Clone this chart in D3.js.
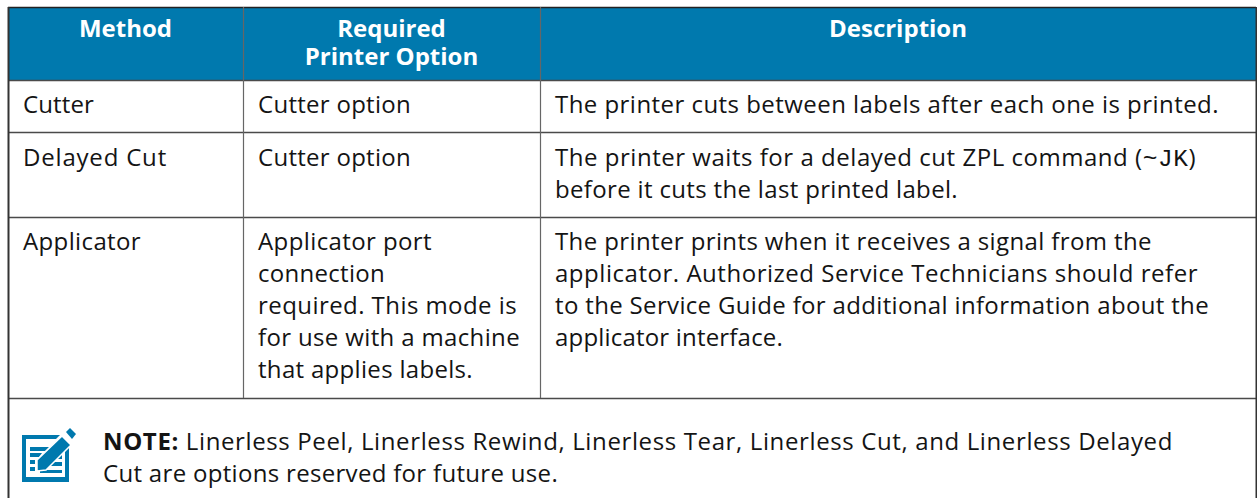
<!DOCTYPE html>
<html>
<head>
<meta charset="utf-8">
<script src="https://cdn.jsdelivr.net/npm/d3@7"></script>
<style>
html, body { margin: 0; padding: 0; background: #fff; }
svg { display: block; }
text { font-family: "Open Sans", Lato, sans-serif; font-variant-ligatures: none; }
</style>
</head>
<body>
<svg width="1257" height="498"></svg>
<script>
// table content
var headers = [["Method"], ["Required", "Printer Option"], ["Description"]];
var methods = [["Cutter"], ["Delayed Cut"], ["Applicator"]];
var options = [
    ["Cutter option"],
    ["Cutter option"],
    ["Applicator port", "connection", "required. This mode is", "for use with a machine", "that applies labels."]
];
var descriptions = [
    ["The printer cuts between labels after each one is printed."],
    ["The printer waits for a delayed cut ZPL command (~JK)", "before it cuts the last printed label."],
    ["The printer prints when it receives a signal from the", "applicator. Authorized Service Technicians should refer", "to the Service Guide for additional information about the", "applicator interface."]
];
var noteLabel = "NOTE:";
var noteLines = [" Linerless Peel, Linerless Rewind, Linerless Tear, Linerless Cut, and Linerless Delayed", "Cut are options reserved for future use."];

// layout
var colEdges = [8, 243, 540, 1256];
var rowEdges = [7, 80, 132, 217, 398];
var rowBase = [113, 166, 250];
var blue = "#0079ae";
var ink = "#141414";
var lineH = 32;
var bodySize = 24;

// right edge of each column's lines, the original face runs wider than Open Sans
var methodEnds = [[94], [167], [141]];
var optionEnds = [[411], [411], [432, 385, 517, 520, 473]];
var descriptionEnds = [[1219], [1196, 958], [1152, 1198, 1209, 783]];
var noteEnds = [1173, 558];

var svg = d3.select("svg");

// stretch a line out to its right edge with letter spacing
function fitTo(sel, x, end) {
    var n = sel.text().length;
    var w = sel.node().getComputedTextLength();
    sel.style("letter-spacing", ((end - x - w) / n) + "px");
}

// header band
svg.append("rect")
    .attr("x", colEdges[0])
    .attr("y", rowEdges[0])
    .attr("width", colEdges[3] - colEdges[0])
    .attr("height", rowEdges[1] - rowEdges[0])
    .attr("fill", blue);

// rules
rowEdges.forEach(function (y, i) {
    svg.append("line")
        .attr("x1", colEdges[0]).attr("x2", colEdges[3])
        .attr("y1", y + 0.5).attr("y2", y + 0.5)
        .attr("stroke", i == 0 ? "#222" : "#4a4a4a")
        .attr("stroke-width", 1.5);
});
colEdges.forEach(function (x, i) {
    var outer = i == 0 || i == 3;
    svg.append("line")
        .attr("x1", x + 0.5).attr("x2", x + 0.5)
        .attr("y1", rowEdges[0])
        .attr("y2", outer ? 498 : rowEdges[4])
        .attr("stroke", outer ? "#333" : "#666")
        .attr("stroke-width", outer ? 2 : 1.2);
});

// header text
headers.forEach(function (lines, c) {
    var cx = (colEdges[c] + colEdges[c + 1]) / 2;
    svg.append("g").selectAll("text")
        .data(lines)
        .enter()
        .append("text")
        .attr("x", cx)
        .attr("y", function (d, i) { return 37 + i * 28; })
        .attr("text-anchor", "middle")
        .attr("fill", "#fff")
        .style("font-size", "24px")
        .style("font-weight", 700)
        .text(function (d) { return d; });
});

// body cells
function drawCells(columns, ends, x) {
    columns.forEach(function (lines, r) {
        svg.append("g").selectAll("text")
            .data(lines)
            .enter()
            .append("text")
            .attr("x", x)
            .attr("y", function (d, i) { return rowBase[r] + i * lineH; })
            .attr("fill", ink)
            .style("font-size", bodySize + "px")
            .each(function (d, i) {
                var t = d3.select(this);
                var m = d.indexOf("~JK");
                if (m < 0) {
                    t.text(d);
                    fitTo(t, x, ends[r][i]);
                    return;
                }
                // the command is set in a typewriter face
                t.append("tspan").text(d.slice(0, m));
                t.append("tspan").style("font-family", "'Liberation Mono', monospace").style("font-size", "24.5px").text("~JK");
                t.append("tspan").text(d.slice(m + 3));
                fitTo(t, x, ends[r][i]);
            });
    });
}
drawCells(methods, methodEnds, colEdges[0] + 15);
drawCells(options, optionEnds, colEdges[1] + 15);
drawCells(descriptions, descriptionEnds, colEdges[2] + 15);

// note
var note = svg.append("g");
var first = note.append("text")
    .attr("x", 103).attr("y", 449.5)
    .attr("fill", ink)
    .style("white-space", "pre")
    .style("font-size", bodySize + "px");
first.append("tspan").style("font-weight", 700).text(noteLabel);
first.append("tspan").text(noteLines[0]);
fitTo(first, 103, noteEnds[0]);
var second = note.append("text")
    .attr("x", 103).attr("y", 481.5)
    .attr("fill", ink)
    .style("font-size", bodySize + "px")
    .text(noteLines[1]);
fitTo(second, 103, noteEnds[1]);

// note icon: framed page with pencil
var icon = svg.append("g");
icon.append("path")
    .attr("fill", blue)
    .attr("fill-rule", "evenodd")
    .attr("d", "M22 435H60L56 439H26V477H65V447L69 443V482H22Z");
icon.append("path")
    .attr("fill", blue)
    .attr("d", "M30 447H49L45 451H30ZM30 453H42L39 457H30ZM30 460H35V464H30ZM30 467H35V471H30ZM40 470H62V473H40ZM50 462H62V466H46ZM62 450V459H54Z");
icon.append("path")
    .attr("fill", blue)
    .attr("stroke", "#fff")
    .attr("stroke-width", 1.5)
    .attr("d", "M37 460L62 436L71 445L46 470L37 471Z");
icon.append("path")
    .attr("fill", blue)
    .attr("d", "M66 432L70 428L76 434L72 439Z");
</script>
</body>
</html>
